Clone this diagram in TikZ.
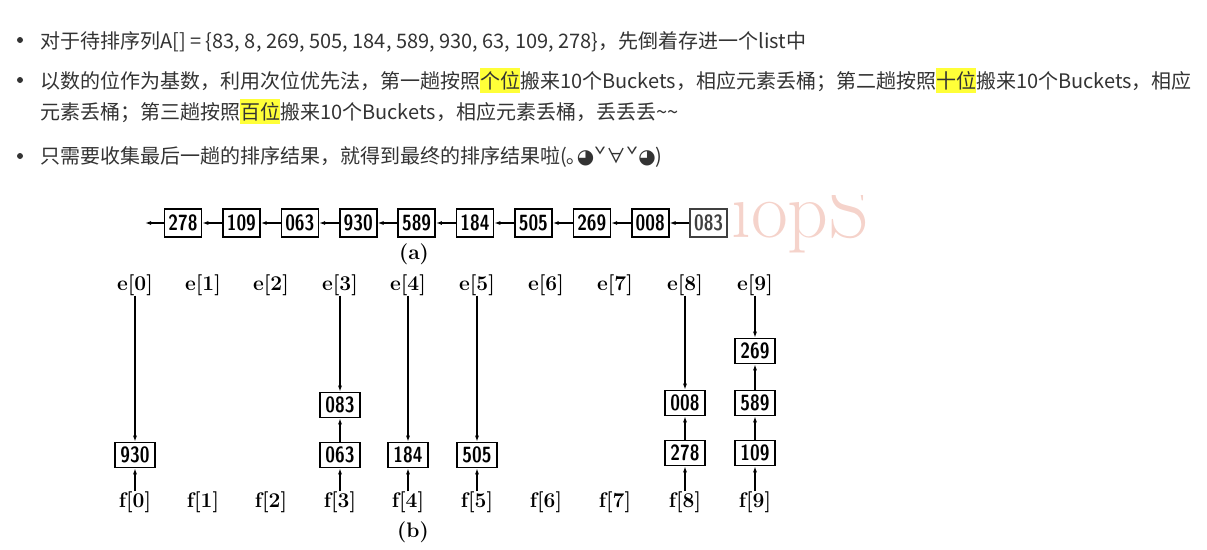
\documentclass[tikz,border=0pt]{standalone}
\usepackage{fontspec, graphicx}
\usetikzlibrary{arrows.meta}
\newfontfamily\cjk{Noto Sans CJK SC}
\newfontfamily\symf{DejaVu Sans}
\definecolor{txtgray}{HTML}{333333}
\definecolor{hlyellow}{HTML}{FFFF38}
\definecolor{wmark}{HTML}{F5D3CB}
\newcommand{\hlt}[1]{{\setlength{\fboxsep}{0pt}\colorbox{hlyellow}{\rule[-5pt]{0pt}{25pt}#1}}}
\newcommand{\dg}[1]{\scalebox{0.8}[1]{#1}}
\tikzset{
    line/.style = {anchor = base west, inner sep = 0pt, text = txtgray, font = \cjk\fontsize{20}{24}\selectfont},
    lbox/.style = {draw, line width = 1.6pt, minimum width = 37pt, minimum height = 28pt, inner sep = 0pt, font = \sffamily\bfseries\fontsize{22}{24}\selectfont},
    bbox/.style = {lbox, minimum width = 40pt, minimum height = 25pt},
    idx/.style = {inner sep = 0pt, font = \bfseries\fontsize{21}{24}\selectfont},
    ptr/.style = {line width = 1.3pt, -{Latex[length = 6pt, width = 4pt]}}
}
\begin{document}
\begin{tikzpicture}[x = 1pt, y = -1pt]
    \useasboundingbox (0,0) rectangle (1207,549);
    % text above the figure
    \fill[txtgray] (20,40) circle (3pt) (20,80) circle (3pt) (20,156) circle (3pt);
    \node (t1) at (40,48) [line] {对于待排序列A[] = \{83, 8, 269, 505, 184, 589, 930, 63, 109, 278\}，先倒着存进一个list中};
    \node (t2) at (40,88) [line] {以数的位作为基数，利用次位优先法，第一趟按照\hlt{个位}搬来10个Buckets，相应元素丢桶；第二趟按照\hlt{十位}搬来10个Buckets，相应};
    \node (t3) at (40,119) [line] {元素丢桶；第三趟按照\hlt{百位}搬来10个Buckets，相应元素丢桶，丢丢丢\textasciitilde\textasciitilde};
    \node (t4) at (40,163) [line] {只需要收集最后一趟的排序结果，就得到最终的排序结果啦(｡{\symf ◕}ˇ∀ˇ{\symf ◕})};
    % watermark
    \begin{scope}
        \clip (730,195) rectangle (866,262);
        \node (wm) at (731,237) [anchor = base west, inner sep = 0pt, text = wmark, font = \fontsize{80}{80}\selectfont] {iopSa};
    \end{scope}
    % (a) the list
    \coordinate (st) at (145,223);
    \node (l1) at (183,223) [lbox] {\dg{278}};
    \node (l2) at (241.4,223) [lbox] {\dg{109}};
    \node (l3) at (299.8,223) [lbox] {\dg{063}};
    \node (l4) at (358.2,223) [lbox] {\dg{930}};
    \node (l5) at (416.6,223) [lbox] {\dg{589}};
    \node (l6) at (475,223) [lbox] {\dg{184}};
    \node (l7) at (533.4,223) [lbox] {\dg{505}};
    \node (l8) at (591.8,223) [lbox] {\dg{269}};
    \node (l9) at (650.2,223) [lbox] {\dg{008}};
    \node (l10) at (708.6,223) [lbox, draw = black!75, text = black!75] {\dg{083}};
    \draw[ptr] (l1) -- (st);
    \draw[ptr] (l2) -- (l1);
    \draw[ptr] (l3) -- (l2);
    \draw[ptr] (l4) -- (l3);
    \draw[ptr] (l5) -- (l4);
    \draw[ptr] (l6) -- (l5);
    \draw[ptr] (l7) -- (l6);
    \draw[ptr] (l8) -- (l7);
    \draw[ptr] (l9) -- (l8);
    \draw[ptr] (l10) -- (l9);
    \node (cap a) at (414,254) [idx] {(a)};
    % (b) the buckets
    \node (e0) at (135,285) [idx] {e[0]};
    \node (e1) at (203,285) [idx] {e[1]};
    \node (e2) at (271,285) [idx] {e[2]};
    \node (e3) at (340,285) [idx] {e[3]};
    \node (e4) at (408,285) [idx] {e[4]};
    \node (e5) at (477,285) [idx] {e[5]};
    \node (e6) at (546,285) [idx] {e[6]};
    \node (e7) at (615,285) [idx] {e[7]};
    \node (e8) at (685,285) [idx] {e[8]};
    \node (e9) at (755,285) [idx] {e[9]};
    \node (f0) at (135,502) [idx] {f[0]};
    \node (f1) at (203,502) [idx] {f[1]};
    \node (f2) at (271,502) [idx] {f[2]};
    \node (f3) at (340,502) [idx] {f[3]};
    \node (f4) at (408,502) [idx] {f[4]};
    \node (f5) at (477,502) [idx] {f[5]};
    \node (f6) at (546,502) [idx] {f[6]};
    \node (f7) at (615,502) [idx] {f[7]};
    \node (f8) at (685,502) [idx] {f[8]};
    \node (f9) at (755,502) [idx] {f[9]};
    \node (b0) at (135,455) [bbox] {\dg{930}};
    \node (b3a) at (340,455) [bbox] {\dg{063}};
    \node (b3b) at (340,405) [bbox] {\dg{083}};
    \node (b4) at (408,455) [bbox] {\dg{184}};
    \node (b5) at (477,455) [bbox] {\dg{505}};
    \node (b8a) at (685,453) [bbox] {\dg{278}};
    \node (b8b) at (685,403) [bbox] {\dg{008}};
    \node (b9a) at (755,453) [bbox] {\dg{109}};
    \node (b9b) at (755,403) [bbox] {\dg{589}};
    \node (b9c) at (755,351) [bbox] {\dg{269}};
    \draw[ptr] (e0) -- (b0);
    \draw[ptr] (f0) -- (b0);
    \draw[ptr] (e3) -- (b3b);
    \draw[ptr] (b3a) -- (b3b);
    \draw[ptr] (f3) -- (b3a);
    \draw[ptr] (e4) -- (b4);
    \draw[ptr] (f4) -- (b4);
    \draw[ptr] (e5) -- (b5);
    \draw[ptr] (f5) -- (b5);
    \draw[ptr] (e8) -- (b8b);
    \draw[ptr] (b8a) -- (b8b);
    \draw[ptr] (f8) -- (b8a);
    \draw[ptr] (e9) -- (b9c);
    \draw[ptr] (b9b) -- (b9c);
    \draw[ptr] (b9a) -- (b9b);
    \draw[ptr] (f9) -- (b9a);
    \node (cap b) at (413,532) [idx] {(b)};
\end{tikzpicture}
\end{document}
